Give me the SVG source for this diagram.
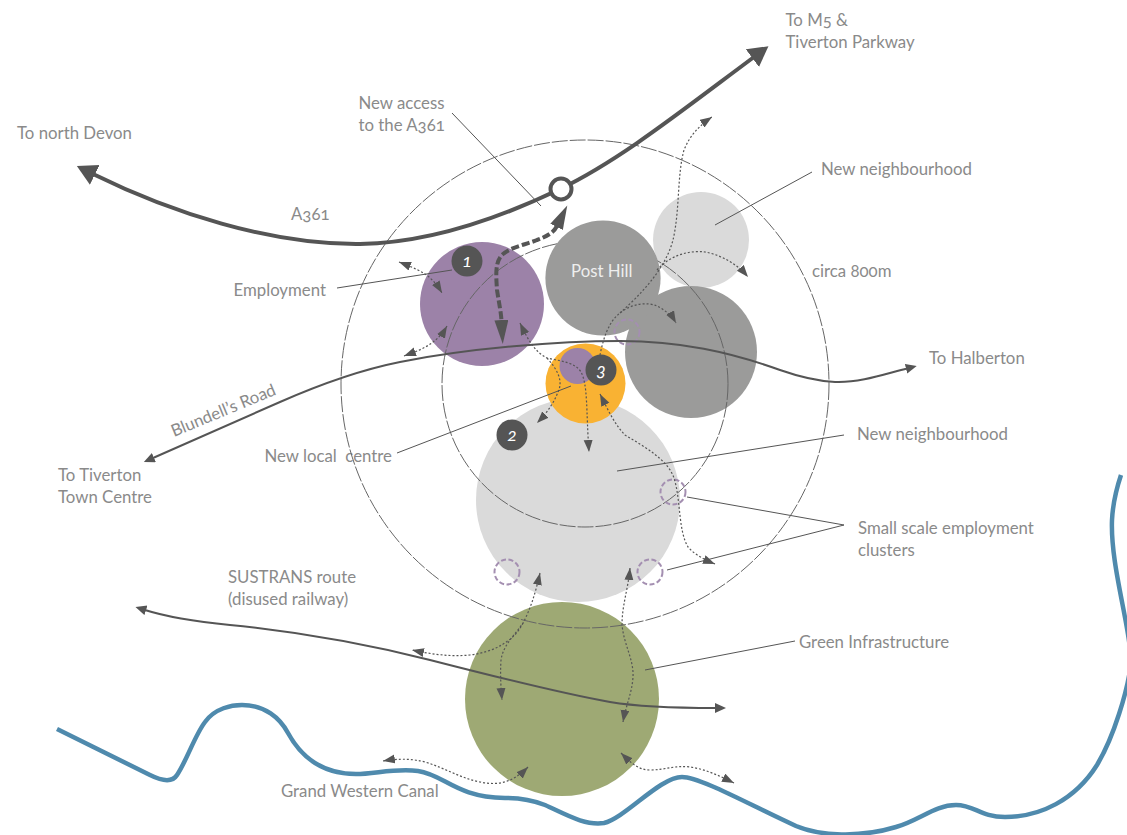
<svg xmlns="http://www.w3.org/2000/svg" width="1127" height="835" viewBox="0 0 1127 835">
<style>
text{font-family:"Lato","Open Sans","Liberation Sans",sans-serif;font-size:16.8px;fill:#8a8a8a;font-variant-numeric:oldstyle-nums;white-space:pre}
.ring{fill:none;stroke:#666;stroke-width:1;stroke-dasharray:16 2}
.spot{fill:none;stroke:#a48fb1;stroke-width:2;stroke-dasharray:5 2.5}
.road{fill:none;stroke:#555;stroke-width:2}
.dot{fill:none;stroke:#555;stroke-width:1.2;stroke-dasharray:2 2}
.lead{fill:none;stroke:#555;stroke-width:1}
.badge{fill:#555}
.num{fill:#fff;font-style:italic;font-size:18px;text-anchor:middle}
</style>
<defs>
<marker id="sm" markerUnits="userSpaceOnUse" markerWidth="14" markerHeight="10" refX="12" refY="4.5" orient="auto-start-reverse"><path d="M0,0 L12,4.5 L0,9 Z" fill="#555"/></marker>
<marker id="rd" markerUnits="userSpaceOnUse" markerWidth="14" markerHeight="12" refX="1" refY="5" orient="auto-start-reverse"><path d="M0,0 L11,5 L0,10 Z" fill="#555"/></marker>
<marker id="big" markerUnits="userSpaceOnUse" markerWidth="22" markerHeight="24" refX="2" refY="11" orient="auto-start-reverse"><path d="M0,0 L20,11 L0,22 Z" fill="#555"/></marker>
<marker id="acc" markerUnits="userSpaceOnUse" markerWidth="26" markerHeight="16" refX="1" refY="7" orient="auto-start-reverse"><path d="M0,0 L24,7 L0,14 Z" fill="#555"/></marker>
</defs>

<g id="neighbourhood-north"><circle cx="701" cy="240" r="48" fill="#dadada"/><text x="821" y="175">New neighbourhood</text></g>
<g id="neighbourhood-south"><circle cx="578" cy="500" r="102" fill="#dadada"/><text x="857" y="440">New neighbourhood</text></g>
<g id="employment"><circle cx="482" cy="304" r="62" fill="#9c82a8"/><text x="233.5" y="296">Employment</text></g>
<g id="east-hill"><circle cx="691" cy="352" r="66" fill="#9b9b9a"/></g>
<g id="ring-inner"><circle class="ring" cx="585" cy="384" r="143"/></g>
<g id="post-hill"><circle cx="603" cy="278" r="57.6" fill="#9b9b9a"/><text x="571" y="277" style="fill:#eee">Post Hill</text></g>
<g id="local-centre"><circle cx="585.5" cy="383.5" r="40" fill="#f9b233"/><circle cx="577.5" cy="366" r="18" fill="#9c82a8"/><text x="264.5" y="462">New local  centre</text></g>
<g id="green-infrastructure"><circle cx="562" cy="699" r="97" fill="#9ea974"/><text x="799" y="648">Green Infrastructure</text></g>
<g id="ring-outer"><circle class="ring" cx="585" cy="384" r="244"/><text x="812" y="277">circa 800m</text></g>
<g id="clusters">
<circle class="spot" cx="627" cy="332" r="12.5"/>
<circle class="spot" cx="673" cy="492" r="12.5"/>
<circle class="spot" cx="507" cy="572" r="12.5"/>
<circle class="spot" cx="650" cy="572" r="12.5"/>
<text x="858" y="534">Small scale employment</text><text x="858" y="556">clusters</text>
</g>

<g id="connectors">
<path id="canal" d="M57,729 L150,775 C160,780 172,783 177,775 C187,760 195,735 205,722 C215,708 232,705 242,705 C265,705 280,718 288,733 C300,755 320,774 356,774 C375,774 395,768 418,771 C445,775 455,797 505,798 C520,798 532,800 545,805 C565,814 585,826 604,823 C625,818 660,777 682,777 C700,777 750,805 796,826 C820,836 860,838 896,827 C920,820 935,805 956,805 C975,805 980,817 1005,817 C1040,817 1075,800 1097,765 C1115,735 1127,690 1130,670 C1135,640 1110,570 1112,520 C1113,500 1117,487 1121,475" fill="none" stroke="#4f8aad" stroke-width="4.5"/>
<path class="road" d="M153,458 L280,402 C330,380 370,368 400,362 C470,348 560,341 620,341 C680,341 730,352 780,370 C800,377 815,381 835,382 C860,383 885,374 907,368.500" marker-start="url(#rd)" marker-end="url(#rd)"/>
<path class="road" d="M145,610 C170,618 200,622 230,625 C290,631 350,640 430,660 C500,678 570,695 610,702 C640,707 680,708 716,708" marker-start="url(#rd)" marker-end="url(#rd)"/>
<path d="M93,174 C170,212 270,245 360,244 C430,243 500,218 560,189 C620,160 680,112 754,57" fill="none" stroke="#555" stroke-width="4" marker-start="url(#big)" marker-end="url(#big)"/>
<path d="M557,226 C554,232 548,236 537,240 C525,245 510,247 502,255 C495,262 496,275 497,290 C499,303 501,312 501.500,321" fill="none" stroke="#555" stroke-width="4" stroke-dasharray="8 3" marker-start="url(#acc)" marker-end="url(#acc)"/>

<path class="lead" d="M452,113 L541,206"/>
<path class="lead" d="M812,172 L715,225"/>
<path class="lead" d="M337,288 L452,270"/>
<path class="lead" d="M397,453 L571,386"/>
<path class="lead" d="M844,435 L617,471"/>
<path class="lead" d="M687,497 L844,525 L667,570"/>
<path class="lead" d="M645,670 L795,641"/>

<path class="dot" d="M399,262 C412,267 424,272 430,278 C436,283 439,288 442,293" marker-start="url(#sm)" marker-end="url(#sm)"/>
<path class="dot" d="M404,356 C420,350 436,345 447,326" marker-start="url(#sm)" marker-end="url(#sm)"/>
<path class="dot" d="M520,323 C528,340 535,352 547,358 C560,361 575,362 581,372 C588,385 586,410 589,452" marker-start="url(#sm)" marker-end="url(#sm)"/>
<path class="dot" d="M547,358 C556,368 564,380 558,392 C553,405 545,415 537,423" marker-end="url(#sm)"/>
<path class="dot" d="M600,355 C603,340 608,322 620,313 C632,303 648,302 657,306 C665,310 672,316 676,323" marker-end="url(#sm)"/>
<path class="dot" d="M620,313 C640,295 665,270 673,240 C680,210 677,175 684,150 C690,135 700,125 712,117" marker-end="url(#sm)"/>
<path class="dot" d="M657,270 C670,255 690,250 705,252 C722,255 738,265 748,277" marker-end="url(#sm)"/>
<path class="dot" d="M600,394 C608,410 615,425 625,435 C645,447 668,460 674,478 C681,500 678,530 688,547 C695,555 705,560 715,564" marker-start="url(#sm)" marker-end="url(#sm)"/>
<path class="dot" d="M540,573 C535,595 530,610 523,623 C515,635 503,645 501,660 C500,675 501,688 502,700" marker-start="url(#sm)" marker-end="url(#sm)"/>
<path class="dot" d="M523,623 C515,640 495,652 470,655 C450,657 430,654 412,650" marker-end="url(#sm)"/>
<path class="dot" d="M630,568 C628,590 622,605 622,625 C624,645 634,660 633,677 C632,693 626,705 623,722" marker-start="url(#sm)" marker-end="url(#sm)"/>
<path class="dot" d="M621,753 C630,762 638,770 650,770 C665,770 675,765 690,767 C705,769 720,776 734,783" marker-start="url(#sm)" marker-end="url(#sm)"/>
<path class="dot" d="M383,761 C395,759 410,758 425,762 C445,768 460,778 480,782 C495,785 510,785 528,767" marker-start="url(#sm)" marker-end="url(#sm)"/>
</g>

<g id="access-node"><circle cx="561" cy="189" r="10.5" fill="#fff" stroke="#555" stroke-width="4"/></g>
<g id="badge-1"><circle class="badge" cx="467" cy="261" r="15.5"/><text class="num" x="467" y="267">1</text></g>
<g id="badge-2"><circle class="badge" cx="512" cy="435" r="15.5"/><text class="num" x="512" y="441">2</text></g>
<g id="badge-3"><circle class="badge" cx="601" cy="370" r="15.5"/><text class="num" x="601" y="376">3</text></g>

<g id="labels">
<text x="17" y="139">To north Devon</text>
<text x="291" y="220">A361</text>
<text x="358.5" y="109">New access</text>
<text x="358.5" y="131">to the A361</text>
<text x="785.5" y="26">To M5 &amp;</text>
<text x="785.5" y="48">Tiverton Parkway</text>
<text x="929" y="364">To Halberton</text>
<text x="281" y="797">Grand Western Canal</text>
<text x="228" y="583">SUSTRANS route</text>
<text x="228" y="605">(disused railway)</text>
<text x="58" y="481">To Tiverton</text>
<text x="58" y="503">Town Centre</text>
<text transform="translate(174,437) rotate(-22.5)">Blundell’s Road</text>
</g>
</svg>
